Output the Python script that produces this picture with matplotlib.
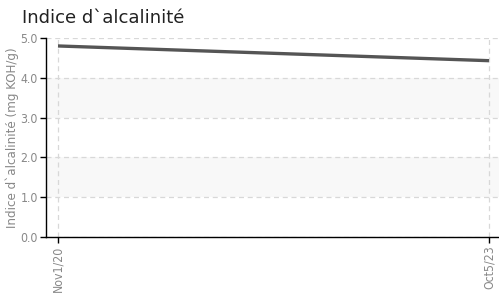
import matplotlib
matplotlib.use("Agg")
import matplotlib.pyplot as plt
import matplotlib.dates as mdates
import datetime as dt

dates = [dt.date(2020, 11, 1), dt.date(2023, 10, 5)]
values = [4.80, 4.43]
xtick_labels = ["Nov1/20", "Oct5/23"]
yticks = [0.0, 1.0, 2.0, 3.0, 4.0, 5.0]
title = "Indice d`alcalinité"
ylabel = "Indice d`alcalinité (mg KOH/g)"

fig = plt.figure(figsize=(4.99, 2.94), dpi=100)
ax = fig.add_axes([46/499, 1-237/294, 1-46/499, (237-38)/294])

xn = mdates.date2num(dates)
ax.set_xlim(xn[0]-29.7, xn[1]+24.8)
ax.set_ylim(0, 5)

for lo, hi in [(1, 2), (3, 4)]:
    ax.axhspan(lo, hi, color="#f8f8f8", zorder=0, lw=0)

ax.plot(xn, values, color="#555555", lw=2.4, zorder=3, solid_capstyle="butt")

ax.set_yticks(yticks)
ax.set_yticklabels([f"{v:.1f}" for v in yticks])
ax.set_xticks(xn)
ax.set_xticklabels(xtick_labels, rotation=90)
ax.grid(True, color="#d8d8d8", ls=(0, (4, 3)), lw=0.9)
ax.set_axisbelow(True)

for s in ["top", "right"]:
    ax.spines[s].set_visible(False)
for s in ["left", "bottom"]:
    ax.spines[s].set_color("#000000")
    ax.spines[s].set_linewidth(1.0)

ax.tick_params(axis="both", colors="#000000", labelcolor="#888888", labelsize=8.8, length=4, width=1, pad=2)
for lab in ax.get_xticklabels() + ax.get_yticklabels():
    lab.set_fontstretch("condensed")

ax.set_ylabel(ylabel, color="#888888", fontsize=9.5, fontstretch="condensed", labelpad=1)
fig.text(22/499, 1-18/294, title, fontsize=13, color="#222222", va="center", ha="left")

fig.savefig("out.png", dpi=100)
